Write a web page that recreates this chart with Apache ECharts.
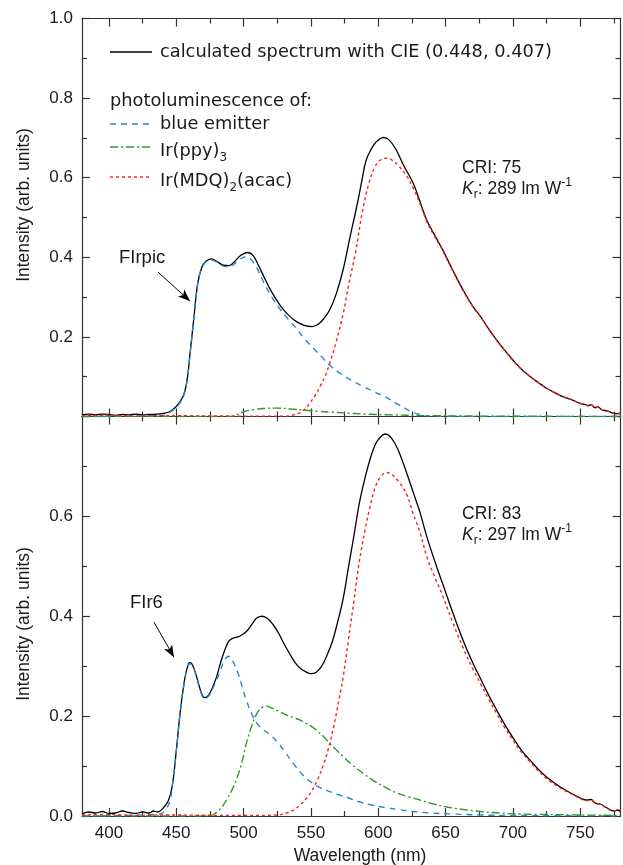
<!DOCTYPE html>
<html><head><meta charset="utf-8">
<script src="https://cdn.jsdelivr.net/npm/echarts@6/dist/echarts.min.js"></script>
<style>html,body{margin:0;padding:0;background:#fff}#c{width:623px;height:865px}</style>
</head><body><div id="c"></div><script>
// ---------- data ----------
const xTickValues = [400,450,500,550,600,650,700,750];
const xMinorValues = [425,475,525,575,625,675,725,775];
const topYTickLabels = [0.2,0.4,0.6,0.8,1.0];
const botYTickLabels = [0.0,0.2,0.4,0.6];

const topTotal = [[380,0.004],[385,0.006],[390,0.004],[395,0.006],[400,0.005],[405,0.003],[410,0.005],[415,0.004],[420,0.006],[425,0.004],[430,0.005],[435,0.006],[440,0.008],[445,0.012],[450,0.025],[455,0.05],[458,0.09],[460,0.15],[463,0.245],[466,0.335],[469,0.375],[472,0.39],[476,0.396],[480,0.39],[485,0.38],[489,0.379],[493,0.388],[498,0.405],[503,0.412],[507,0.405],[511,0.38],[515,0.352],[520,0.318],[527,0.28],[533,0.256],[539,0.239],[545,0.229],[551,0.226],[556,0.233],[560,0.248],[564,0.268],[569,0.31],[574,0.37],[579,0.45],[584,0.527],[588,0.595],[591,0.644],[595,0.673],[598,0.688],[601,0.697],[604,0.701],[608,0.695],[613,0.672],[619,0.63],[626,0.586],[631,0.54],[636,0.494],[642,0.455],[648,0.418],[655,0.37],[663,0.318],[670,0.278],[676,0.251],[682,0.22],[688,0.192],[694,0.166],[700,0.142],[706,0.12],[713,0.10],[719,0.085],[725,0.071],[731,0.06],[737,0.05],[743,0.043],[750,0.033],[754,0.030],[756,0.027],[758,0.03],[761,0.022],[763,0.025],[766,0.017],[770,0.014],[775,0.008],[778,0.007],[780,0.009]];
const topBlue = [[380,0],[440,0.003],[445,0.01],[450,0.023],[455,0.048],[458,0.09],[460,0.15],[463,0.245],[466,0.335],[469,0.373],[472,0.388],[476,0.393],[480,0.388],[485,0.378],[489,0.376],[493,0.383],[498,0.397],[502,0.401],[506,0.393],[510,0.372],[515,0.337],[521,0.3],[527,0.27],[533,0.245],[539,0.222],[545,0.196],[552,0.171],[558,0.15],[564,0.129],[572,0.108],[580,0.091],[589,0.075],[597,0.062],[606,0.048],[615,0.03],[625,0.012],[632,0.004],[640,0.001],[700,0],[780,0]];
const topGreen = [[380,0],[490,0],[495,0.005],[500,0.012],[507,0.017],[515,0.02],[525,0.021],[535,0.019],[545,0.016],[555,0.013],[565,0.011],[575,0.009],[590,0.006],[610,0.004],[640,0.002],[680,0.001],[780,0]];
const topRed = [[380,0.002],[400,0.003],[420,0.001],[440,0.002],[500,0.001],[530,0.001],[536,0.003],[542,0.01],[546,0.02],[549,0.033],[553,0.052],[557,0.077],[561,0.105],[564,0.134],[569,0.19],[574,0.259],[578,0.33],[583,0.41],[588,0.51],[593,0.585],[598,0.63],[602,0.645],[606,0.649],[610,0.645],[615,0.63],[621,0.605],[626,0.574],[631,0.535],[636,0.49],[642,0.452],[648,0.416],[655,0.368],[663,0.316],[670,0.277],[676,0.25],[682,0.219],[688,0.191],[694,0.165],[700,0.141],[706,0.12],[713,0.1],[719,0.085],[725,0.071],[731,0.06],[737,0.05],[743,0.043],[750,0.033],[754,0.030],[756,0.027],[758,0.03],[761,0.022],[763,0.025],[766,0.017],[770,0.014],[775,0.008],[778,0.007],[780,0.009]];

const botTotal = [[380,0.004],[385,0.008],[390,0.006],[395,0.009],[400,0.005],[405,0.006],[410,0.01],[415,0.007],[420,0.005],[425,0.008],[430,0.006],[433,0.01],[436,0.008],[440,0.015],[444,0.03],[447,0.06],[450,0.13],[453,0.21],[456,0.27],[458,0.295],[460,0.307],[462,0.303],[465,0.28],[468,0.252],[471,0.237],[474,0.242],[477,0.258],[480,0.279],[483,0.308],[486,0.332],[489,0.35],[492,0.356],[495,0.358],[499,0.363],[503,0.372],[507,0.387],[510,0.397],[514,0.40],[518,0.395],[522,0.383],[526,0.366],[530,0.345],[534,0.326],[538,0.308],[542,0.296],[546,0.289],[550,0.285],[554,0.288],[558,0.3],[562,0.322],[566,0.35],[570,0.39],[574,0.436],[578,0.5],[582,0.562],[586,0.627],[590,0.675],[594,0.715],[598,0.745],[602,0.76],[605,0.765],[608,0.762],[612,0.748],[616,0.725],[621,0.688],[626,0.648],[631,0.608],[636,0.56],[642,0.51],[648,0.464],[655,0.41],[663,0.352],[670,0.308],[676,0.275],[682,0.242],[688,0.212],[694,0.183],[700,0.157],[706,0.133],[713,0.111],[719,0.093],[725,0.078],[731,0.066],[737,0.055],[743,0.046],[750,0.036],[755,0.032],[758,0.033],[761,0.026],[765,0.024],[770,0.016],[775,0.01],[778,0.012],[780,0.008]];
const botBlue = [[380,0],[438,0.004],[442,0.012],[445,0.028],[447,0.058],[450,0.128],[453,0.208],[456,0.268],[458,0.293],[460,0.305],[462,0.301],[465,0.278],[468,0.25],[471,0.235],[474,0.24],[477,0.255],[480,0.272],[483,0.293],[486,0.313],[489,0.32],[492,0.31],[496,0.285],[499,0.258],[502,0.232],[506,0.205],[510,0.185],[515,0.172],[520,0.162],[525,0.148],[530,0.131],[537,0.105],[544,0.082],[550,0.068],[556,0.058],[563,0.05],[570,0.043],[578,0.036],[585,0.029],[595,0.022],[605,0.017],[615,0.013],[626,0.009],[640,0.006],[655,0.004],[676,0.002],[700,0.001],[780,0]];
const botGreen = [[380,0],[475,0],[478,0.004],[482,0.012],[485,0.022],[488,0.035],[491,0.05],[495,0.075],[499,0.11],[502,0.145],[506,0.18],[510,0.206],[514,0.218],[517,0.22],[521,0.216],[526,0.21],[531,0.203],[537,0.197],[542,0.192],[546,0.186],[550,0.18],[554,0.172],[559,0.16],[564,0.145],[569,0.132],[574,0.119],[580,0.104],[589,0.085],[597,0.07],[605,0.058],[614,0.046],[622,0.039],[631,0.032],[641,0.024],[651,0.018],[663,0.013],[676,0.009],[690,0.006],[705,0.004],[725,0.003],[750,0.002],[780,0.001]];
const botRed = [[380,0.002],[400,0.003],[420,0.001],[440,0.002],[500,0.001],[525,0.002],[532,0.006],[537,0.012],[542,0.022],[547,0.036],[551,0.052],[555,0.073],[559,0.1],[563,0.135],[567,0.18],[571,0.235],[574,0.279],[578,0.355],[582,0.432],[586,0.51],[590,0.57],[594,0.62],[598,0.66],[602,0.68],[606,0.688],[610,0.684],[615,0.67],[621,0.645],[626,0.605],[631,0.568],[636,0.52],[642,0.478],[648,0.44],[655,0.39],[663,0.337],[670,0.296],[676,0.265],[682,0.234],[688,0.205],[694,0.177],[700,0.152],[706,0.129],[713,0.108],[719,0.09],[725,0.075],[731,0.063],[737,0.053],[743,0.045],[750,0.035],[755,0.031],[758,0.032],[761,0.025],[765,0.023],[770,0.015],[775,0.01],[778,0.011],[780,0.008]];

// ---------- styling ----------
const FH = 'Liberation Sans, Arial, Helvetica, sans-serif';
const FV = 'DejaVu Sans, Verdana, sans-serif';
const AX = {color:'#333', width:1.2};
const C_BLUE = '#2a88c8', C_GREEN = '#2a9a2a', C_RED = '#ff1c1c';
const D_BLUE = [6,5], D_GREEN = [8,3,2,3], D_RED = [3,3];

function xAx(g, pos, ticks, len, line, labels){
  return {type:'value', gridIndex:g, min:380, max:780, position:pos,
    axisLine:{show:line, onZero:false, lineStyle:AX},
    axisTick:{show:true, inside:true, length:len, customValues:ticks, lineStyle:AX},
    axisLabel:{show:labels, customValues:xTickValues, margin:9, fontSize:17, color:'#1a1a1a', fontFamily:FH},
    splitLine:{show:false}};
}
function yAx(g, pos, max, labels, labelVals){
  return {type:'value', gridIndex:g, min:0, max:max, interval:0.2, position:pos,
    axisLine:{show:true, onZero:false, lineStyle:AX},
    axisTick:{show:true, inside:true, length:8, lineStyle:AX},
    minorTick:{show:true, splitNumber:2, length:5, lineStyle:AX},
    axisLabel:{show:labels, customValues:labelVals, formatter:v=>v.toFixed(1), margin:9, fontSize:17, color:'#1a1a1a', fontFamily:FH},
    splitLine:{show:false}, minorSplitLine:{show:false}};
}
function ser(data, color, type, width, xi, yi, extra){
  return Object.assign({type:'line', data:data, xAxisIndex:xi, yAxisIndex:yi, showSymbol:false, symbol:'none',
    smooth:0.4, lineStyle:{color:color, width:width, type:type}, silent:true, animation:false}, extra||{});
}
function arrow(a, b){
  return {silent:true, symbol:['none','arrow'], symbolSize:[7,12], animation:false,
    lineStyle:{color:'#000', width:1, type:'solid'}, label:{show:false},
    data:[[{coord:a},{coord:b}]]};
}
const txt = (x,y,text,font,rich) => ({type:'text', x:x, y:y, silent:true,
  style:{text:text, font:font, fill:'#1a1a1a', verticalAlign:'middle', align:'left', rich:rich}});
const richSub = {a:{fontSize:17.8, fontFamily:FV, fill:'#1a1a1a'}, s:{fontSize:12, fontFamily:FV, padding:[13,0,0,0], fill:'#1a1a1a'}};
const richK = {i:{fontSize:17.5, fontFamily:FH, fontStyle:'italic', fill:'#1a1a1a'}, s:{fontSize:12, fontFamily:FH, padding:[12,0,0,0], fill:'#1a1a1a'},
  n:{fontSize:17.5, fontFamily:FH, fill:'#1a1a1a'}, p:{fontSize:12, fontFamily:FH, padding:[0,0,12,0], fill:'#1a1a1a'}};
const legLine = (y,color,dash,w) => ({type:'line', silent:true, shape:{x1:110,y1:y,x2:152,y2:y}, style:{stroke:color, lineWidth:w, lineDash:dash}});

const chart = echarts.init(document.getElementById('c'));
chart.setOption({
  animation:false,
  backgroundColor:'#fff',
  grid:[{left:82, right:2.4, top:18.5, height:398},{left:82, right:2.4, top:416.5, height:399.5}],
  xAxis:[xAx(0,'bottom',xTickValues,8,true,false), xAx(0,'bottom',xMinorValues,5,false,false),
         xAx(0,'top',xTickValues,8,true,false), xAx(0,'top',xMinorValues,5,false,false),
         xAx(1,'bottom',xTickValues,8,true,true), xAx(1,'bottom',xMinorValues,5,false,false),
         xAx(1,'top',xTickValues,8,true,false), xAx(1,'top',xMinorValues,5,false,false)],
  yAxis:[yAx(0,'left',1,true,topYTickLabels), yAx(0,'right',1,false,topYTickLabels),
         yAx(1,'left',0.8,true,botYTickLabels), yAx(1,'right',0.8,false,botYTickLabels)],
  series:[
    ser(topTotal,'#000','solid',1.3,0,0,{markLine:arrow([436.4,0.363],[460.2,0.29])}),
    ser(topBlue,C_BLUE,D_BLUE,1.4,0,0),
    ser(topGreen,C_GREEN,D_GREEN,1.4,0,0),
    ser(topRed,C_RED,D_RED,1.4,0,0),
    ser(botTotal,'#000','solid',1.3,4,2,{markLine:arrow([433.5,0.388],[448.3,0.318])}),
    ser(botBlue,C_BLUE,D_BLUE,1.4,4,2),
    ser(botGreen,C_GREEN,D_GREEN,1.4,4,2),
    ser(botRed,C_RED,D_RED,1.4,4,2)
  ],
  graphic:[
    legLine(52,'#000',null,1.3),
    txt(160,52,'calculated spectrum with CIE (0.448, 0.407)','17.8px '+FV),
    txt(110,101,'photoluminescence of:','17.8px '+FV),
    legLine(124,C_BLUE,D_BLUE,1.4),
    txt(160,124,'blue emitter','17.8px '+FV),
    legLine(147,C_GREEN,D_GREEN,1.4),
    txt(160,151,'{a|Ir(ppy)}{s|3}','17.8px '+FV,richSub),
    legLine(177,C_RED,D_RED,1.4),
    txt(160,181,'{a|Ir(MDQ)}{s|2}{a|(acac)}','17.8px '+FV,richSub),
    txt(462,168,'CRI: 75','17.5px '+FH),
    txt(462,189,'{i|K}{s|r}{n|: 289 lm W}{p|-1}','17.5px '+FH,richK),
    txt(462,514,'CRI: 83','17.5px '+FH),
    txt(462,535,'{i|K}{s|r}{n|: 297 lm W}{p|-1}','17.5px '+FH,richK),
    txt(119,258,'FIrpic','18.5px '+FH),
    txt(130,603,'FIr6','18.5px '+FH),
    {type:'text', x:24, y:205, rotation:Math.PI/2, silent:true,
     style:{text:'Intensity (arb. units)', font:'17.5px '+FH, fill:'#1a1a1a', align:'center', verticalAlign:'middle'}},
    {type:'text', x:24, y:624, rotation:Math.PI/2, silent:true,
     style:{text:'Intensity (arb. units)', font:'17.5px '+FH, fill:'#1a1a1a', align:'center', verticalAlign:'middle'}},
    {type:'text', x:360, y:856, silent:true,
     style:{text:'Wavelength (nm)', font:'17.5px '+FH, fill:'#1a1a1a', align:'center', verticalAlign:'middle'}}
  ]
});
</script></body></html>
